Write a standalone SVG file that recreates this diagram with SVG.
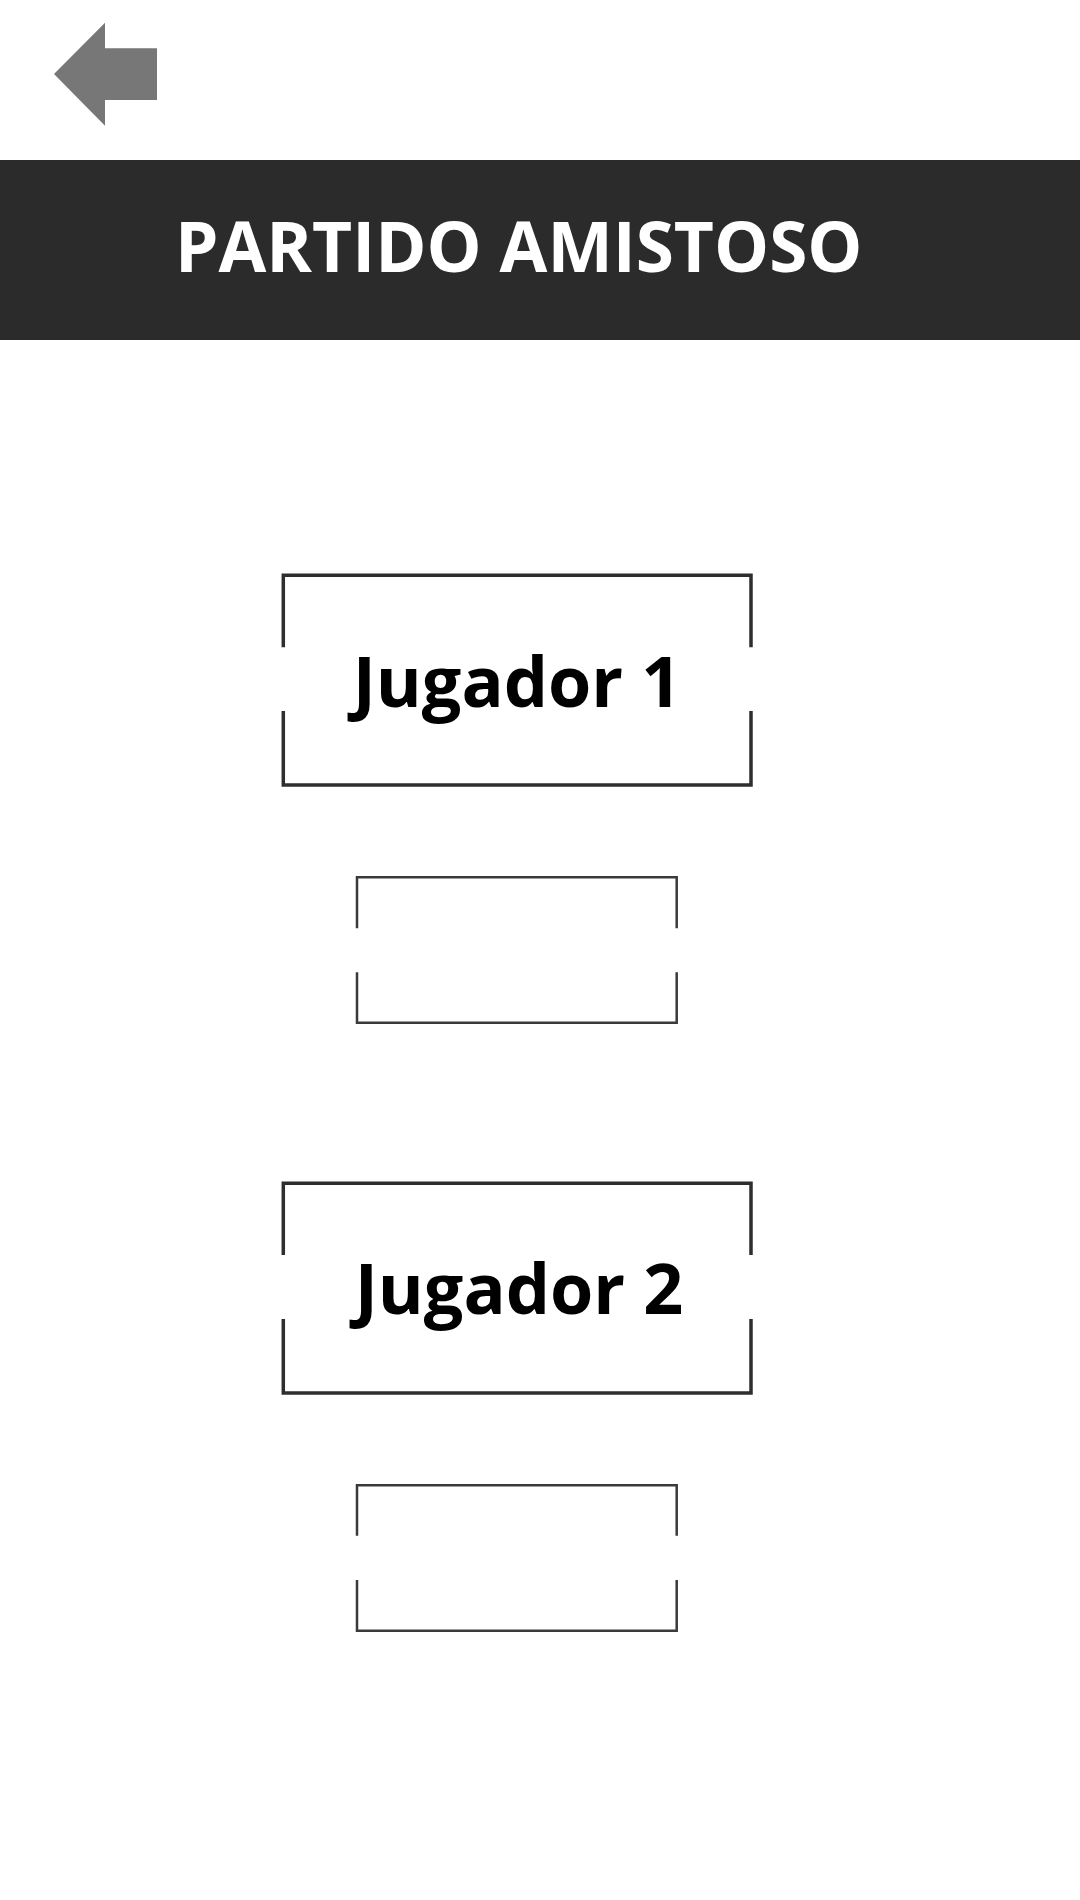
<svg xmlns="http://www.w3.org/2000/svg" width="1080" height="1900" viewBox="0 0 1080 1900">
<style>
.big{fill:none;stroke:#2e2e2e;stroke-width:3.5}
.small{fill:none;stroke:#3a3a3a;stroke-width:2.5}
.lbl{font-family:"Open Sans",sans-serif;font-weight:bold;font-size:70px;fill:#000;text-anchor:middle}
</style>
<rect width="1080" height="1900" fill="#fff"/>
<g id="back">
<polygon points="54,74 105,22.7 105,48.3 157,48.3 157,100 105,100 105,125.7" fill="#777"/>
</g>
<g id="header">
<rect x="0" y="160" width="1080" height="180" fill="#2b2b2b"/>
<text x="175" y="272" font-family="Open Sans, sans-serif" font-weight="bold" font-size="69.3" fill="#fff">PARTIDO AMISTOSO</text>
</g>
<g id="jugador1">
<path class="big" d="M283.3,647.3 V575.3 H751 V647.3 M283.3,711 V785 H751 V711"/>
<text class="lbl" x="517" y="706.7">Jugador 1</text>
</g>
<g id="input1">
<path class="small" d="M357,928.3 V877.3 H676.7 V928.3 M357,972.3 V1022.7 H676.7 V972.3"/>
</g>
<g id="jugador2">
<path class="big" d="M283.3,1255 V1183.3 H751 V1255 M283.3,1319 V1393 H751 V1319"/>
<text class="lbl" x="519" y="1314">Jugador 2</text>
</g>
<g id="input2">
<path class="small" d="M357,1535.7 V1485.3 H676.7 V1535.7 M357,1580 V1630.7 H676.7 V1580"/>
</g>
<g id="connectors"></g>
</svg>
